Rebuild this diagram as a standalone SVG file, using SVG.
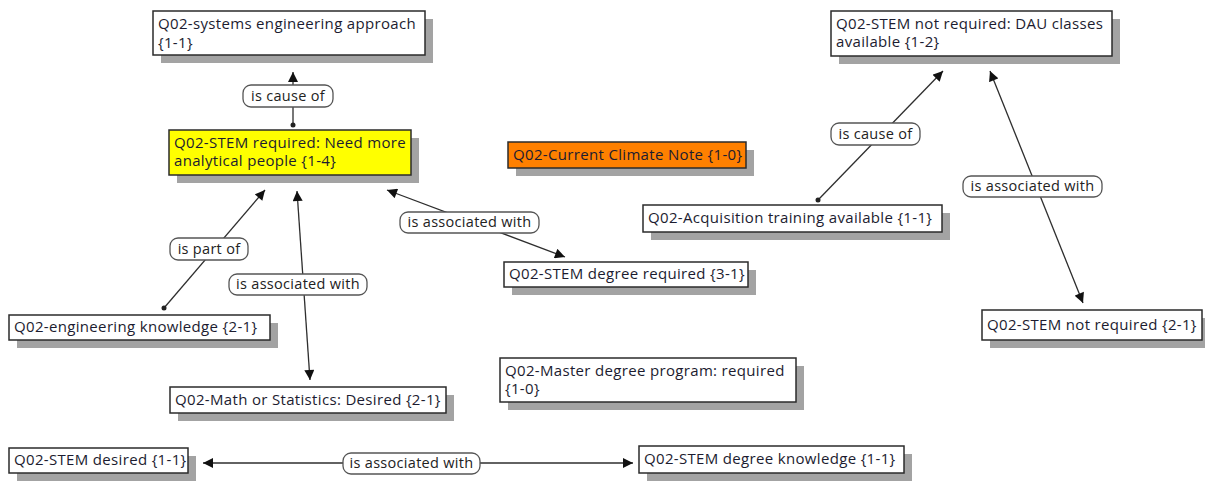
<svg xmlns="http://www.w3.org/2000/svg" width="1205" height="481" viewBox="0 0 1205 481">
<defs>
<style>
.shadow{fill:#a3a3a3}
.box{fill:#fff;stroke:#2b2b2b;stroke-width:1.5}
.yellow{fill:#ffff00}
.orange{fill:#ff8000}
.t{font-family:"Open Sans","Liberation Sans",sans-serif;font-size:15px;letter-spacing:0.33px;fill:#1c1c30}
.pill{fill:#fff;stroke:#555;stroke-width:1.3}
.lt{font-family:"Open Sans","Liberation Sans",sans-serif;font-size:14.5px;letter-spacing:0.3px;fill:#222;text-anchor:middle}
.ln{fill:none;stroke:#2e2e2e;stroke-width:1.3}
.dot{fill:#222}
</style>
<marker id="ah" viewBox="0 0 10 10" refX="10" refY="5" markerWidth="11" markerHeight="10" markerUnits="userSpaceOnUse" orient="auto-start-reverse">
<path d="M0,0 L10,5 L0,10 z" fill="#111"/>
</marker>
</defs>
<rect width="1205" height="481" fill="#fff"/>

<g id="connectors">
<line class="ln" x1="293" y1="125" x2="293" y2="72" marker-end="url(#ah)"/>
<circle class="dot" cx="293" cy="125" r="2.5"/>
<line class="ln" x1="818" y1="200" x2="943" y2="71" marker-end="url(#ah)"/>
<circle class="dot" cx="818" cy="200" r="2.5"/>
<line class="ln" x1="990" y1="71" x2="1083" y2="303" marker-start="url(#ah)" marker-end="url(#ah)"/>
<line class="ln" x1="164" y1="308" x2="265" y2="190" marker-end="url(#ah)"/>
<circle class="dot" cx="164" cy="308" r="2.5"/>
<line class="ln" x1="297" y1="191" x2="310" y2="380" marker-start="url(#ah)" marker-end="url(#ah)"/>
<line class="ln" x1="387" y1="190" x2="565" y2="257" marker-start="url(#ah)" marker-end="url(#ah)"/>
<line class="ln" x1="203" y1="463" x2="633" y2="463" marker-start="url(#ah)" marker-end="url(#ah)"/>

<g id="lbl1"><rect class="pill" x="243" y="85" width="90" height="22" rx="8"/><text class="lt" x="288" y="101">is cause of</text></g>
<g id="lbl2"><rect class="pill" x="831" y="123" width="89" height="22" rx="8"/><text class="lt" x="875.5" y="139">is cause of</text></g>
<g id="lbl3"><rect class="pill" x="963" y="176" width="139" height="21" rx="8"/><text class="lt" x="1032.5" y="191">is associated with</text></g>
<g id="lbl4"><rect class="pill" x="170" y="238" width="78" height="22" rx="8"/><text class="lt" x="209" y="254">is part of</text></g>
<g id="lbl5"><rect class="pill" x="229" y="274" width="138" height="21" rx="8"/><text class="lt" x="298" y="289">is associated with</text></g>
<g id="lbl6"><rect class="pill" x="400" y="212" width="139" height="21" rx="8"/><text class="lt" x="469.5" y="227">is associated with</text></g>
<g id="lbl7"><rect class="pill" x="343" y="453" width="137" height="21" rx="8"/><text class="lt" x="411.5" y="468">is associated with</text></g>
</g>

<g id="n1"><rect class="shadow" x="161" y="19" width="272" height="44"/><rect class="box" x="153" y="11" width="272" height="44"/><text class="t" x="158" y="29">Q02-systems engineering approach</text><text class="t" x="158" y="48">{1-1}</text></g>
<g id="n2"><rect class="shadow" x="177" y="138" width="242" height="45"/><rect class="box yellow" x="169" y="130" width="242" height="45"/><text class="t" x="174" y="148">Q02-STEM required: Need more</text><text class="t" x="174" y="166">analytical people {1-4}</text></g>
<g id="n3"><rect class="shadow" x="516" y="150" width="238" height="26"/><rect class="box orange" x="508" y="142" width="238" height="26"/><text class="t" x="513" y="160">Q02-Current Climate Note {1-0}</text></g>
<g id="n4"><rect class="shadow" x="839" y="19" width="281" height="45"/><rect class="box" x="831" y="11" width="281" height="45"/><text class="t" x="836" y="29">Q02-STEM not required: DAU classes</text><text class="t" x="836" y="47">available {1-2}</text></g>
<g id="n5"><rect class="shadow" x="651" y="213" width="299" height="27"/><rect class="box" x="643" y="205" width="299" height="27"/><text class="t" x="648" y="223">Q02-Acquisition training available {1-1}</text></g>
<g id="n6"><rect class="shadow" x="512" y="270" width="244" height="25"/><rect class="box" x="504" y="262" width="244" height="25"/><text class="t" x="509" y="279">Q02-STEM degree required {3-1}</text></g>
<g id="n7"><rect class="shadow" x="990" y="318" width="220" height="30"/><rect class="box" x="982" y="310" width="220" height="30"/><text class="t" x="987" y="330">Q02-STEM not required {2-1}</text></g>
<g id="n8"><rect class="shadow" x="17" y="323" width="261" height="25"/><rect class="box" x="9" y="315" width="261" height="25"/><text class="t" x="14" y="332">Q02-engineering knowledge {2-1}</text></g>
<g id="n9"><rect class="shadow" x="178" y="395" width="276" height="26"/><rect class="box" x="170" y="387" width="276" height="26"/><text class="t" x="175" y="405">Q02-Math or Statistics: Desired {2-1}</text></g>
<g id="n10"><rect class="shadow" x="508" y="366" width="296" height="44"/><rect class="box" x="500" y="358" width="296" height="44"/><text class="t" x="505" y="376">Q02-Master degree program: required</text><text class="t" x="505" y="394">{1-0}</text></g>
<g id="n11"><rect class="shadow" x="17" y="456" width="179" height="25"/><rect class="box" x="9" y="448" width="179" height="25"/><text class="t" x="14" y="465">Q02-STEM desired {1-1}</text></g>
<g id="n12"><rect class="shadow" x="647" y="454" width="265" height="27"/><rect class="box" x="639" y="446" width="265" height="27"/><text class="t" x="644" y="464">Q02-STEM degree knowledge {1-1}</text></g>
</svg>
